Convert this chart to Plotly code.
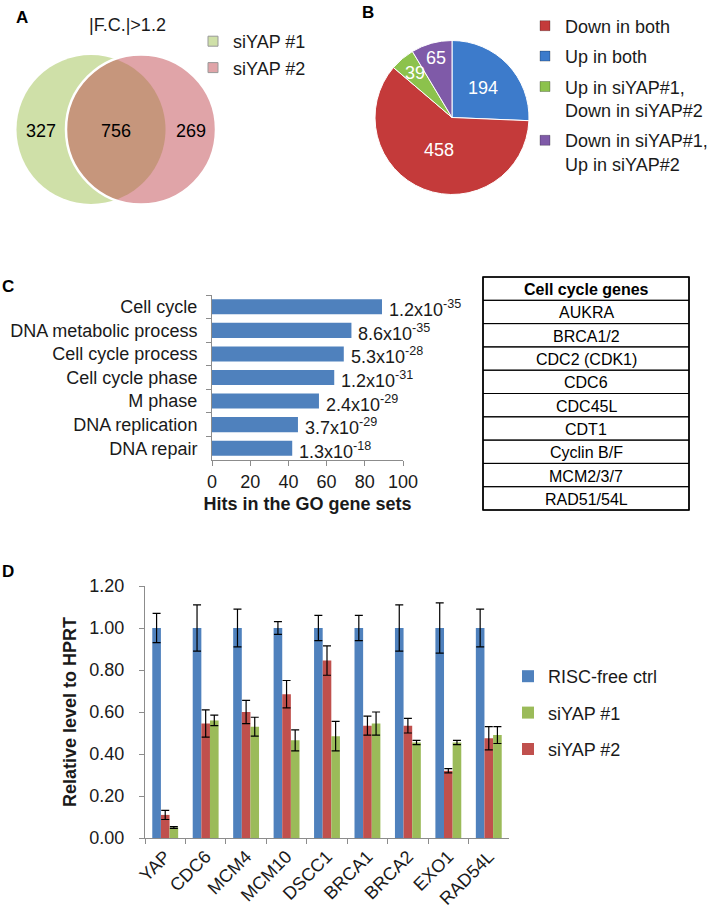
import numpy as np
import plotly.graph_objects as go

W, H = 711, 918
FONT = "Arial, 'Liberation Sans', sans-serif"
TXT = "#1a1a1a"
AX = "#8c8c8c"

# ---------------- data ----------------
# Panel A (Venn)
venn_sets = ["siYAP #1", "siYAP #2"]
venn_counts = [327, 756, 269]          # only #1, both, only #2
venn_title = "|F.C.|>1.2"

# Panel B (pie), clockwise from 12 o'clock
pie_labels = ["Up in both", "Down in both",
              "Up in siYAP#1,<br>Down in siYAP#2",
              "Down in siYAP#1,<br>Up in siYAP#2"]
pie_values = [194, 458, 39, 65]
pie_legend_order = ["Down in both", "Up in both",
                    "Up in siYAP#1,<br>Down in siYAP#2",
                    "Down in siYAP#1,<br>Up in siYAP#2"]

# Panel C (GO)
go_terms = ["Cell cycle", "DNA metabolic process", "Cell cycle process",
            "Cell cycle phase", "M phase", "DNA replication", "DNA repair"]
go_hits = [89, 73, 69, 64, 56, 45, 42]
go_pvals = ["1.2x10<sup>-35</sup>", "8.6x10<sup>-35</sup>", "5.3x10<sup>-28</sup>",
            "1.2x10<sup>-31</sup>", "2.4x10<sup>-29</sup>", "3.7x10<sup>-29</sup>",
            "1.3x10<sup>-18</sup>"]

# Table
table_header = "Cell cycle genes"
cell_cycle_genes = ["AUKRA", "BRCA1/2", "CDC2 (CDK1)", "CDC6", "CDC45L",
                    "CDT1", "Cyclin B/F", "MCM2/3/7", "RAD51/54L"]

# Panel D (qPCR)
genes = ["YAP", "CDC6", "MCM4", "MCM10", "DSCC1", "BRCA1", "BRCA2", "EXO1", "RAD54L"]
ctrl = [1.00, 1.00, 1.00, 1.00, 1.00, 1.00, 1.00, 1.00, 1.00]
ctrl_err = [0.07, 0.11, 0.09, 0.03, 0.06, 0.06, 0.11, 0.12, 0.09]
si1 = [0.05, 0.56, 0.53, 0.465, 0.485, 0.545, 0.455, 0.455, 0.49]
si1_err = [0.004, 0.025, 0.045, 0.05, 0.07, 0.055, 0.01, 0.01, 0.04]
si2 = [0.11, 0.545, 0.60, 0.685, 0.845, 0.535, 0.535, 0.32, 0.475]
si2_err = [0.022, 0.065, 0.055, 0.065, 0.07, 0.045, 0.035, 0.01, 0.055]

# ---------------- styles ----------------
C_GREEN_V = "#cfe0a8"
C_PINK_V = "#e0a4a8"
C_OVER_V = "#c6967c"
pie_colors = {"Up in both": "#3d7bcb", "Down in both": "#c43a3a",
              "Up in siYAP#1,<br>Down in siYAP#2": "#8cc24c",
              "Down in siYAP#1,<br>Up in siYAP#2": "#7f5aa8"}
BLUE, RED, GREEN = "#4f81bd", "#c0504d", "#9bbb59"


def px(x):
    return x / W


def py(y):
    return 1 - y / H


fig = go.Figure()

# ---------- Panel C: horizontal bars ----------
fig.add_trace(go.Bar(x=go_hits, y=go_terms, orientation="h", marker_color=BLUE,
                     xaxis="x", yaxis="y", showlegend=False, hoverinfo="skip"))

# ---------- Panel D: grouped bars ----------
err = dict(type="data", color="black", thickness=1.2, width=4)
fig.add_trace(go.Bar(x=genes, y=ctrl, name="RISC-free ctrl", marker_color=BLUE,
                     error_y=dict(array=ctrl_err, **err), xaxis="x2", yaxis="y2",
                     legend="legend3", legendrank=1, legendgroup="d1"))
fig.add_trace(go.Bar(x=genes, y=si2, name="siYAP #2", marker_color=RED,
                     error_y=dict(array=si2_err, **err), xaxis="x2", yaxis="y2",
                     legend="legend3", legendrank=3, legendgroup="d3"))
fig.add_trace(go.Bar(x=genes, y=si1, name="siYAP #1", marker_color=GREEN,
                     error_y=dict(array=si1_err, **err), xaxis="x2", yaxis="y2",
                     legend="legend3", legendrank=2, legendgroup="d2"))

# ---------- Panel B: pie ----------
pcx, pcy, pr = 452, 117.5, 77
fig.add_trace(go.Pie(values=pie_values, labels=pie_labels, sort=False,
                     direction="clockwise", rotation=0,
                     marker=dict(colors=[pie_colors[l] for l in pie_labels],
                                 line=dict(color="white", width=1)),
                     textinfo="none", showlegend=False, hoverinfo="skip",
                     domain=dict(x=[px(pcx - pr), px(pcx + pr)],
                                 y=[py(pcy + pr), py(pcy - pr)])))

# legend entries for pie (legend2) and venn (legend)
for lab in pie_legend_order:
    fig.add_trace(go.Scatter(x=[None], y=[None], mode="markers", name=lab,
                             marker=dict(symbol="square", size=10, color=pie_colors[lab],
                                         line=dict(color="rgba(0,0,0,0.25)", width=1)),
                             xaxis="x3", yaxis="y3", legend="legend2", legendgroup=lab))
for lab, col in zip(venn_sets, [C_GREEN_V, C_PINK_V]):
    fig.add_trace(go.Scatter(x=[None], y=[None], mode="markers", name=lab,
                             marker=dict(symbol="square", size=10, color=col,
                                         line=dict(color="#999999", width=1)),
                             xaxis="x3", yaxis="y3", legend="legend", legendgroup="venn"))

shapes = []
annotations = []

# ---------- Table (drawn in pixel coords on x3/y3) ----------
tx0, tx1, ty0, row_h = 483, 689, 277, 23.3
rows = ["<b>%s</b>" % table_header] + cell_cycle_genes
for i, txt in enumerate(rows):
    y0 = ty0 + i * row_h
    shapes.append(dict(type="rect", xref="x3", yref="y3", x0=tx0, x1=tx1, y0=y0, y1=y0 + row_h,
                       line=dict(color="black", width=1), fillcolor="rgba(0,0,0,0)"))
    annotations.append(dict(x=(tx0 + tx1) / 2, y=y0 + row_h / 2 + 1, xref="x3", yref="y3",
                            text=txt, showarrow=False, font=dict(size=16, color="black")))
shapes.append(dict(type="rect", xref="x3", yref="y3", x0=tx0, x1=tx1, y0=ty0,
                   y1=ty0 + len(rows) * row_h, line=dict(color="black", width=1.6),
                   fillcolor="rgba(0,0,0,0)"))

# ---------- Panel A: Venn (pixel coords on x3/y3) ----------
c1 = (91.0, 129.5, 74.5)
c2 = (141.0, 129.5, 75.0)


def circle_pts(cx, cy, r, a0, a1, n=80):
    t = np.linspace(a0, a1, n)
    return cx + r * np.cos(t), cy + r * np.sin(t)


d = c2[0] - c1[0]
xi = (d ** 2 + c1[2] ** 2 - c2[2] ** 2) / (2 * d)
hi = np.sqrt(c1[2] ** 2 - xi ** 2)
a1 = np.arctan2(hi, xi)
a2 = np.arctan2(hi, xi - d)
xa, ya = circle_pts(c1[0], c1[1], c1[2], -a1, a1)
xb, yb = circle_pts(c2[0], c2[1], c2[2], a2, 2 * np.pi - a2)
lx = np.concatenate([xa, xb])
ly = np.concatenate([ya, yb])
lens = "M " + " L ".join("%.2f,%.2f" % (a, b) for a, b in zip(lx, ly)) + " Z"

for (cx, cy, r), col in [(c1, C_GREEN_V), (c2, C_PINK_V)]:
    shapes.append(dict(type="circle", xref="x3", yref="y3", x0=cx - r, x1=cx + r,
                       y0=cy - r, y1=cy + r, fillcolor=col, line=dict(width=0)))
shapes.append(dict(type="path", xref="x3", yref="y3", path=lens, fillcolor=C_OVER_V,
                   line=dict(width=0)))
shapes.append(dict(type="circle", xref="x3", yref="y3", x0=c2[0] - c2[2], x1=c2[0] + c2[2],
                   y0=c2[1] - c2[2], y1=c2[1] + c2[2], fillcolor="rgba(0,0,0,0)",
                   line=dict(color="white", width=2.5)))

venn_x = [(c1[0] - c1[2] + c2[0] - c2[2]) / 2, (c2[0] - c2[2] + c1[0] + c1[2]) / 2,
          (c1[0] + c1[2] + c2[0] + c2[2]) / 2]
for x, n in zip(venn_x, venn_counts):
    annotations.append(dict(x=x, y=131, xref="x3", yref="y3", text=str(n), showarrow=False,
                            font=dict(size=18, color="black")))
annotations.append(dict(x=127, y=25, xref="x3", yref="y3", text=venn_title, showarrow=False,
                        font=dict(size=18, color=TXT)))

# ---------- Panel B: pie labels ----------
label_frac = [0.56, 0.45, 0.75, 0.80]
tot = float(sum(pie_values))
cum = 0.0
for v, f in zip(pie_values, label_frac):
    mid = np.deg2rad((cum + v / 2) / tot * 360)
    cum += v
    annotations.append(dict(x=pcx + f * pr * np.sin(mid), y=pcy - f * pr * np.cos(mid),
                            xref="x3", yref="y3", text=str(v), showarrow=False,
                            font=dict(size=18, color="white")))

# ---------- Panel C: p-values ----------
for t, h, p in zip(go_terms, go_hits, go_pvals):
    annotations.append(dict(x=h, y=t, xref="x", yref="y", text=p, showarrow=False,
                            xanchor="left", xshift=5, yshift=-2,
                            font=dict(size=18, color=TXT)))

# ---------- panel letters ----------
for lab, x, y in [("A", 22, 17), ("B", 368, 12), ("C", 8, 286), ("D", 8, 571)]:
    annotations.append(dict(x=x, y=y, xref="x3", yref="y3", text="<b>%s</b>" % lab,
                            showarrow=False, font=dict(size=17, color="black")))

axis_common = dict(showline=True, linecolor=AX, linewidth=1, ticks="outside",
                   tickcolor=AX, ticklen=5, showgrid=False, zeroline=False,
                   automargin=False, tickfont=dict(size=18, color=TXT))

fig.update_layout(
    template="none",
    width=W, height=H, margin=dict(l=0, r=0, t=0, b=0, pad=0, autoexpand=False),
    paper_bgcolor="white", plot_bgcolor="rgba(0,0,0,0)",
    font=dict(family=FONT, size=18, color=TXT),
    barmode="group", bargap=0.36, bargroupgap=0.0,
    xaxis=dict(domain=[px(212), px(403)], range=[0, 100], dtick=20, anchor="y",
               title=dict(text="<b>Hits in the GO gene sets</b>", font=dict(size=18), standoff=6),
               **axis_common),
    yaxis=dict(domain=[py(460), py(295)], anchor="x", type="category",
               categoryorder="array", categoryarray=go_terms, range=[6.5, -0.5],
               tickson="boundaries", ticklabelstandoff=10, **axis_common),
    xaxis2=dict(domain=[px(145), px(509)], anchor="y2", type="category",
                range=[-0.5, 8.5], tickson="boundaries", tickangle=-45, **axis_common),
    yaxis2=dict(domain=[py(838), py(586)], anchor="x2", range=[0, 1.2], dtick=0.2,
                tickformat=".2f", ticklabelstandoff=11,
                title=dict(text="<b>Relative level to HPRT</b>", font=dict(size=18), standoff=8),
                **axis_common),
    xaxis3=dict(domain=[0, 1], range=[0, W], visible=False, anchor="y3", fixedrange=True,
                automargin=False),
    yaxis3=dict(domain=[0, 1], range=[H, 0], visible=False, anchor="x3", fixedrange=True,
                automargin=False),
    legend=dict(x=px(193), y=py(23), xanchor="left", yanchor="top",
                font=dict(size=18, color=TXT), bgcolor="rgba(0,0,0,0)", tracegroupgap=0),
    legend2=dict(x=px(525), y=py(7.5), xanchor="left", yanchor="top", valign="top",
                 font=dict(size=18, color=TXT), bgcolor="rgba(0,0,0,0)", tracegroupgap=4),
    legend3=dict(x=px(508), y=py(658), xanchor="left", yanchor="top",
                 font=dict(size=18, color=TXT), bgcolor="rgba(0,0,0,0)", tracegroupgap=10),
    shapes=shapes, annotations=annotations,
)

fig.write_html("out.html", config={"displayModeBar": False, "staticPlot": True},
               post_script="document.body.style.margin='0px';document.body.style.padding='0px';")
